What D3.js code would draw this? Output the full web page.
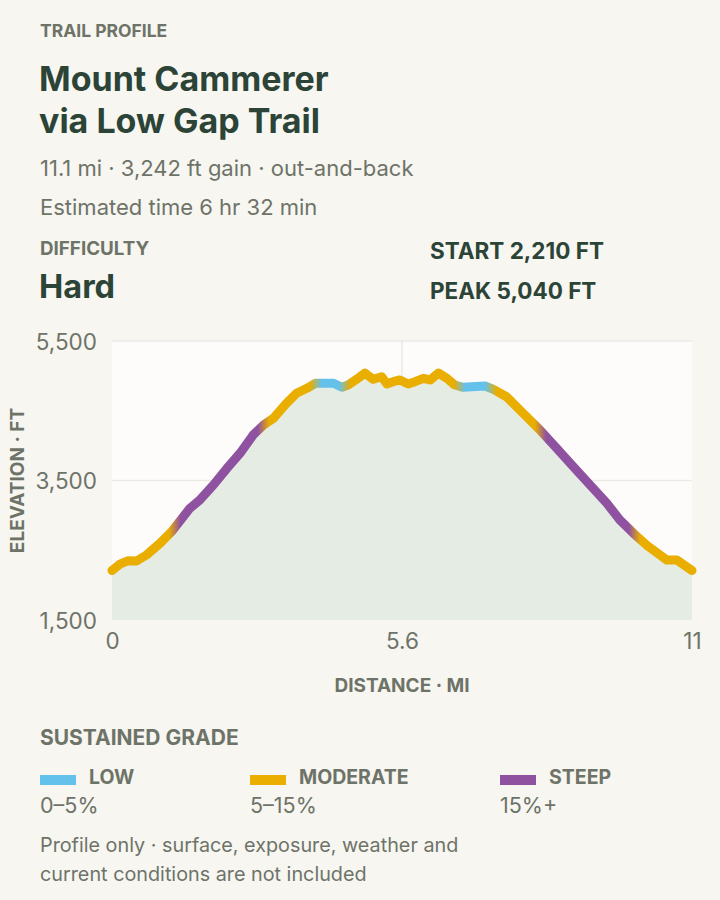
<!DOCTYPE html>
<html>
<head>
<meta charset="utf-8">
<script src="https://cdn.jsdelivr.net/npm/d3@7/dist/d3.min.js"></script>
<style>
  html, body { margin: 0; padding: 0; background: #f7f6f1; }
  svg { display: block; }
  text { font-family: Inter, "Noto Sans", sans-serif; }
</style>
</head>
<body>
<svg id="chart" width="720" height="900"></svg>
<script>
// ---------- data ----------
const distanceMi = [0, 0.15, 0.31, 0.47, 0.66, 0.92, 1.14, 1.49, 1.68, 1.94, 2.20, 2.45, 2.70, 2.90, 3.09, 3.34, 3.53, 3.73, 3.89, 4.24, 4.40, 4.52, 4.68, 4.84, 5.00, 5.16, 5.26, 5.38, 5.51, 5.67, 5.80, 5.96, 6.09, 6.25, 6.41, 6.56, 6.72, 7.14, 7.30, 7.55, 7.87, 8.19, 8.51, 8.83, 9.18, 9.47, 9.72, 9.98, 10.23, 10.62, 10.81, 11.1];
const elevationFt = [2210, 2300, 2350, 2346, 2432, 2600, 2766, 3101, 3220, 3435, 3675, 3890, 4152, 4296, 4392, 4607, 4750, 4822, 4894, 4894, 4836, 4869, 4951, 5040, 4951, 4988, 4884, 4917, 4941, 4884, 4917, 4965, 4941, 5040, 4965, 4869, 4836, 4855, 4807, 4701, 4463, 4224, 3962, 3698, 3411, 3173, 2934, 2743, 2575, 2360, 2360, 2210];
// sustained-grade zones along the trail: start mile, end mile, class
const zoneStart = [0, 1.2, 2.9, 3.9, 4.45, 6.65, 7.25, 8.2, 10.0];
const zoneEnd   = [1.2, 2.9, 3.9, 4.45, 6.65, 7.25, 8.2, 10.0, 11.1];
const zoneClass = ["moderate", "steep", "moderate", "low", "moderate", "low", "moderate", "steep", "moderate"];

const gradeKeys = ["low", "moderate", "steep"];
const gradeNames = ["LOW", "MODERATE", "STEEP"];
const gradeRanges = ["0–5%", "5–15%", "15%+"];
const gradeColors = ["#64c1ec", "#e9ae00", "#8f52a0"];

const yTickValues = [1500, 3500, 5500];
const xTickValues = [0, 5.55, 11.1];
const xTickLabels = ["0", "5.6", "11"];

// ---------- setup ----------
const svg = d3.select("#chart");
const gray = "#6e7368";
const dark = "#2c4437";
const color = d3.scaleOrdinal().domain(gradeKeys).range(gradeColors);

function txt(x, y, s, size, weight, fill) {
  return svg.append("text").attr("x", x).attr("y", y).attr("fill", fill)
    .attr("font-size", size).attr("font-weight", weight).text(s);
}

// header
txt(40, 37, "TRAIL PROFILE", 17.5, 700, gray);
txt(39, 91, "Mount Cammerer", 34, 700, dark);
txt(39, 133, "via Low Gap Trail", 34, 700, dark);
txt(40, 176, "11.1 mi · 3,242 ft gain · out-and-back", 22, 400, gray);
txt(40, 215, "Estimated time 6 hr 32 min", 22, 400, gray);
txt(40, 255, "DIFFICULTY", 18.8, 700, gray);
txt(39, 298, "Hard", 32.5, 700, dark);
txt(430, 259, "START 2,210 FT", 22.5, 700, dark);
txt(430, 299, "PEAK 5,040 FT", 22.5, 700, dark);

// ---------- chart ----------
const plot = { left: 112, right: 692, top: 341, bottom: 620 };
const x = d3.scaleLinear().domain([0, 11.1]).range([plot.left, plot.right]);
const y = d3.scaleLinear().domain([1500, 5500]).range([plot.bottom, plot.top]);

svg.append("rect").attr("x", plot.left).attr("y", plot.top)
  .attr("width", plot.right - plot.left).attr("height", plot.bottom - plot.top)
  .attr("fill", "#fdfcfa");

// grid
svg.append("g").selectAll("line").data(yTickValues.slice(1)).join("line")
  .attr("x1", plot.left).attr("x2", plot.right)
  .attr("y1", d => y(d)).attr("y2", d => y(d))
  .attr("stroke", "#ebeae5").attr("stroke-width", 1.5);
svg.append("line").attr("x1", x(xTickValues[1])).attr("x2", x(xTickValues[1]))
  .attr("y1", plot.top).attr("y2", plot.bottom)
  .attr("stroke", "#ebeae5").attr("stroke-width", 1.5);

const pts = distanceMi.map((d, i) => [d, elevationFt[i]]);

// area
svg.append("path").datum(pts)
  .attr("fill", "#e5ece4")
  .attr("d", d3.area().x(d => x(d[0])).y0(y(1500)).y1(d => y(d[1])));

// gradient for grade coloring
const defs = svg.append("defs");
const grad = defs.append("linearGradient").attr("id", "gradeGrad")
  .attr("gradientUnits", "userSpaceOnUse")
  .attr("x1", x(0)).attr("x2", x(11.1)).attr("y1", 0).attr("y2", 0);
const blend = 0.11;
const span = 11.1;
const stops = [];
zoneClass.forEach((c, i) => {
  const s = i === 0 ? zoneStart[i] : zoneStart[i] + blend;
  const e = i === zoneClass.length - 1 ? zoneEnd[i] : zoneEnd[i] - blend;
  stops.push({ o: s / span, c: color(c) });
  stops.push({ o: e / span, c: color(c) });
});
grad.selectAll("stop").data(stops).join("stop")
  .attr("offset", d => d.o).attr("stop-color", d => d.c);

svg.append("path").datum(pts)
  .attr("fill", "none")
  .attr("stroke", "url(#gradeGrad)")
  .attr("stroke-width", 9)
  .attr("stroke-linecap", "round")
  .attr("stroke-linejoin", "round")
  .attr("d", d3.line().x(d => x(d[0])).y(d => y(d[1])));

// axes
const yAxis = svg.append("g").attr("transform", `translate(${plot.left - 15},0)`)
  .call(d3.axisLeft(y).tickValues(yTickValues).tickFormat(d3.format(",")).tickSize(0).tickPadding(0));
yAxis.select(".domain").remove();
yAxis.selectAll("text").attr("font-size", 22.5).attr("fill", gray)
  .attr("font-family", "Inter, sans-serif").attr("dy", "0.36em");

const xAxis = svg.append("g").attr("transform", `translate(0,${plot.bottom + 13})`)
  .call(d3.axisBottom(x).tickValues(xTickValues).tickFormat((d, i) => xTickLabels[i]).tickSize(0).tickPadding(0));
xAxis.select(".domain").remove();
xAxis.selectAll("text").attr("font-size", 22.5).attr("fill", gray)
  .attr("font-family", "Inter, sans-serif").attr("dy", "0.71em");

svg.append("text").attr("x", x(5.55)).attr("y", 692).attr("text-anchor", "middle")
  .attr("fill", gray).attr("font-size", 19).attr("font-weight", 700).text("DISTANCE · MI");
svg.append("text").attr("transform", `translate(24,${y(3500)}) rotate(-90)`)
  .attr("text-anchor", "middle").attr("fill", gray)
  .attr("font-size", 19).attr("font-weight", 700).text("ELEVATION · FT");

// ---------- legend ----------
txt(40, 745, "SUSTAINED GRADE", 21, 700, gray);

const legX = [40, 250, 500];
const leg = svg.append("g").selectAll("g").data(gradeKeys).join("g")
  .attr("transform", (d, i) => `translate(${legX[i]},0)`);
leg.append("rect").attr("x", 0).attr("y", 775).attr("width", 36).attr("height", 10)
  .attr("fill", d => color(d));
leg.append("text").attr("x", 49).attr("y", 784).attr("fill", gray)
  .attr("font-size", 19.5).attr("font-weight", 700)
  .text((d, i) => gradeNames[i]);
leg.append("text").attr("x", 0).attr("y", 813).attr("fill", gray)
  .attr("font-size", 21.5)
  .text((d, i) => gradeRanges[i]);

txt(40, 852, "Profile only · surface, exposure, weather and", 19.8, 400, gray);
txt(40, 881, "current conditions are not included", 19.8, 400, gray);
</script>
</body>
</html>
